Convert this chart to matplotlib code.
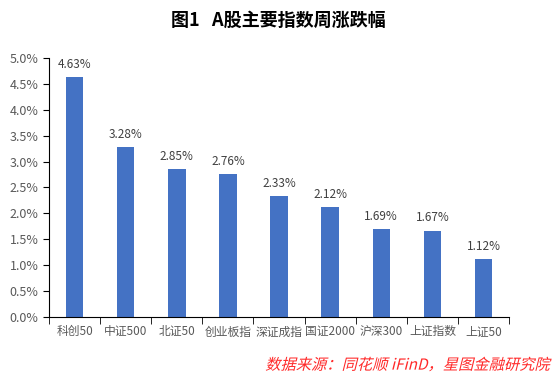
import matplotlib.pyplot as plt
from matplotlib.ticker import FuncFormatter, MultipleLocator
from matplotlib.patheffects import AbstractPathEffect
from matplotlib.transforms import Affine2D

plt.rcParams['font.family'] = ['Noto Sans CJK SC', 'DejaVu Sans']

categories = ['科创50', '中证500', '北证50', '创业板指', '深证成指', '国证2000', '沪深300', '上证指数', '上证50']
values = [4.63, 3.28, 2.85, 2.76, 2.33, 2.12, 1.69, 1.67, 1.12]


# fake italic for the CJK source line (the font has no italic face)
class Slant(AbstractPathEffect):
    def __init__(self, y0, angle=14):
        super().__init__()
        self.y0 = y0
        self.angle = angle

    def draw_path(self, renderer, gc, tpath, affine, rgbFace=None):
        sk = Affine2D().translate(0, -self.y0).skew_deg(self.angle, 0).translate(0, self.y0)
        renderer.draw_path(gc, tpath, affine + sk, rgbFace)


fig = plt.figure(figsize=(5.57, 3.78), dpi=100)
ax = fig.add_axes([0.088, 0.161, 0.826, 0.686])

x = range(len(categories))
ax.bar(x, values, width=0.34, color='#4472C4')
for xi, v in zip(x, values):
    ax.text(xi, v + 0.12, f'{v:.2f}%', ha='center', va='bottom', fontsize=8.5, color='#404040')

ax.set_xlim(-0.5, len(categories) - 0.5)
ax.set_ylim(0, 5.0)
ax.yaxis.set_major_locator(MultipleLocator(0.5))
ax.yaxis.set_major_formatter(FuncFormatter(lambda v, p: f'{v:.1f}%'))
ax.set_xticks(x)
ax.set_xticklabels(categories)
ax.set_xticks([i + 0.5 for i in range(-1, len(categories))], minor=True)
ax.tick_params(axis='x', which='major', length=0, labelsize=8.5, labelcolor='#595959', pad=6)
ax.tick_params(axis='x', which='minor', length=5, direction='out', color='black')
ax.tick_params(axis='y', length=4, direction='out', labelsize=9, labelcolor='#595959')
for s in ['top', 'right']:
    ax.spines[s].set_visible(False)

fig.text(0.5, 0.947, '图1   A股主要指数周涨跌幅', ha='center', va='center', fontsize=13, fontweight='semibold')
src = fig.text(0.988, 0.034, '数据来源：同花顺 iFinD，星图金融研究院', ha='right', va='center',
               fontsize=11, color='#FF2A2A')
src.set_path_effects([Slant(0.034 * 378)])

fig.savefig('out.png')
